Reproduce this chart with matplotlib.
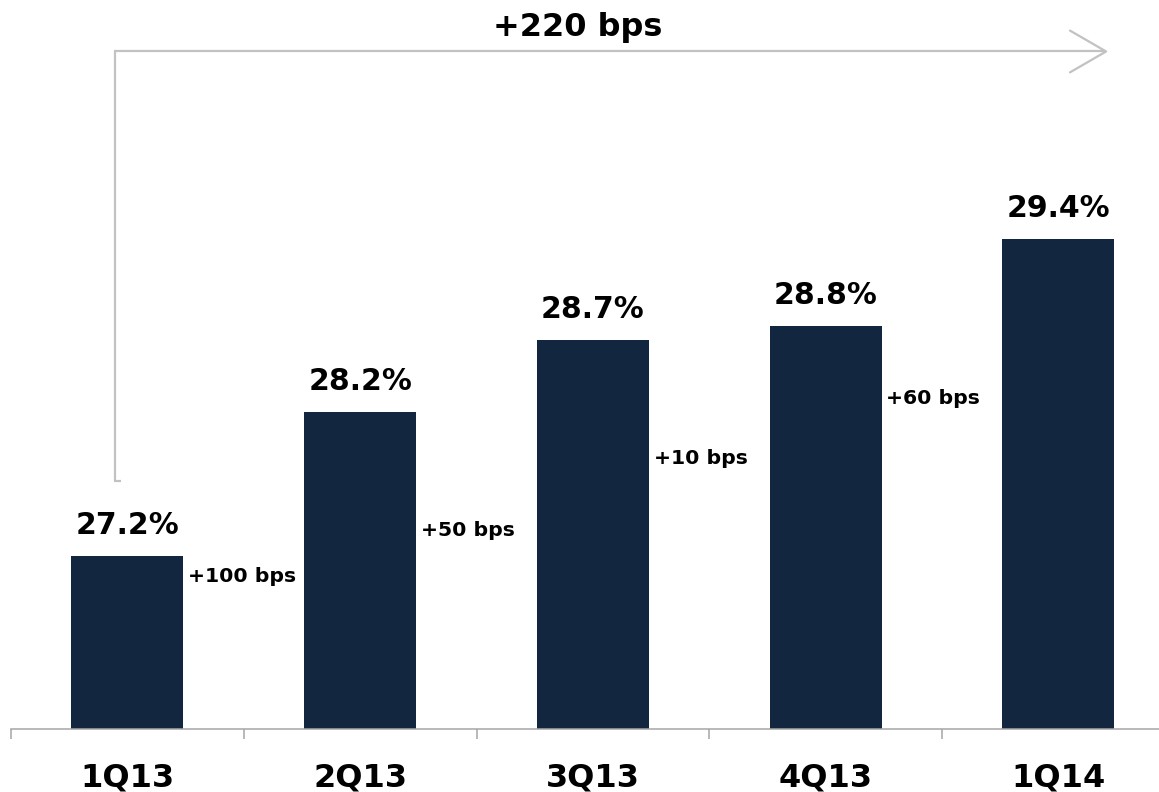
import matplotlib
matplotlib.use('Agg')
import matplotlib.pyplot as plt

# ---- data ----
categories = ['1Q13', '2Q13', '3Q13', '4Q13', '1Q14']
values = [27.2, 28.2, 28.7, 28.8, 29.4]
value_labels = ['27.2%', '28.2%', '28.7%', '28.8%', '29.4%']
step_labels = ['+100 bps', '+50 bps', '+10 bps', '+60 bps']
total_label = '+220 bps'

# ---- annotation layout (positions, not data) ----
step_label_y = [27.02, 27.34, 27.84, 28.26]
bar_color = '#13263f'
grey = '#c2c2c2'
axis_grey = '#a6a6a6'

plt.rcParams['font.family'] = ['DejaVu Sans']

W, H = 1159, 792
fig = plt.figure(figsize=(W / 100, H / 100), dpi=100)
px_per_cat = 232.75
px_per_unit = 144.0
ax = fig.add_axes([11 / W, 63 / H, 1148 / W, 729 / H])
ax.set_xlim(-0.5, -0.5 + 1148 / px_per_cat)
ax.set_ylim(26, 26 + 729 / px_per_unit)

x = list(range(len(categories)))
width = 112 / px_per_cat
ax.bar(x, values, width=width, color=bar_color, zorder=2)

for s in ['top', 'right', 'left']:
    ax.spines[s].set_visible(False)
ax.spines['bottom'].set_color(axis_grey)
ax.spines['bottom'].set_linewidth(1.1)
ax.set_yticks([])

ax.set_xticks([i - 0.5 for i in x])
ax.set_xticklabels([])
ax.tick_params(axis='x', which='major', direction='out', length=7.5,
               width=1.1, color=axis_grey)
ax.set_xticks(x, minor=True)
ax.set_xticklabels(categories, minor=True, fontsize=23, fontweight='bold')
ax.tick_params(axis='x', which='minor', length=0, pad=24)

for i, (v, lab) in enumerate(zip(values, value_labels)):
    ax.annotate(lab, (i, v), xytext=(0, 16), textcoords='offset points',
                ha='center', va='baseline', fontsize=21.5, fontweight='bold')

for i, (lab, yy) in enumerate(zip(step_labels, step_label_y)):
    ax.annotate(lab, (i + width / 2, yy), xytext=(3.5, 0),
                textcoords='offset points', ha='left', va='baseline',
                fontsize=14.7, fontweight='bold')

# bracket arrow from first bar to last bar
bx0, bx_foot, bx1 = -0.053, -0.027, 4.205
by0, by1 = 27.725, 30.705
ax.plot([bx_foot, bx0, bx0, bx1], [by0, by0, by1, by1], color=grey,
        lw=1.6, clip_on=False, solid_capstyle='butt', solid_joinstyle='miter')
ax.plot([4.05, bx1, 4.05], [by1 + 0.145, by1, by1 - 0.145], color=grey,
        lw=1.6, clip_on=False, solid_capstyle='round')
ax.text(1.936, 30.81, total_label, ha='center', va='baseline',
        fontsize=23, fontweight='bold')

fig.savefig('out.png', dpi=100)
